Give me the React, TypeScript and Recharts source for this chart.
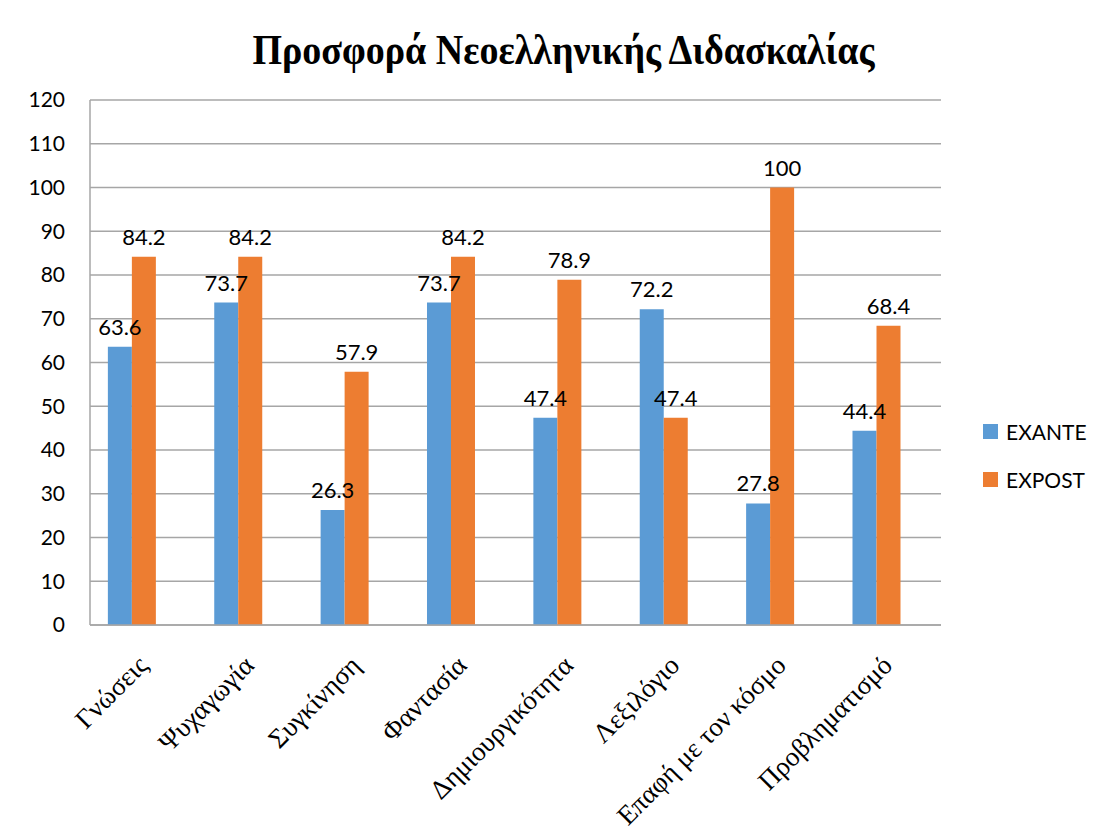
import React from "react";
import { BarChart, Bar, XAxis, YAxis, CartesianGrid, LabelList } from "recharts";

const categories = [
  "Γνώσεις",
  "Ψυχαγωγία",
  "Συγκίνηση",
  "Φαντασία",
  "Δημιουργικότητα",
  "Λεξιλόγιο",
  "Επαφή με τον κόσμο",
  "Προβληματισμό",
];
const exante = [63.6, 73.7, 26.3, 73.7, 47.4, 72.2, 27.8, 44.4];
const expost = [84.2, 84.2, 57.9, 84.2, 78.9, 47.4, 100, 68.4];
const yTicks = [0, 10, 20, 30, 40, 50, 60, 70, 80, 90, 100, 110, 120];
const title = "Προσφορά Νεοελληνικής Διδασκαλίας";
const seriesNames = ["EXANTE", "EXPOST"];
const seriesColors = ["#5B9BD5", "#ED7D31"];

const data = categories.map((c, i) => ({ name: c, EXANTE: exante[i], EXPOST: expost[i] }));

const XTick = (props: any) => {
  const { x, y, payload } = props;
  return (
    <g transform={`translate(${x + 6},${y + 40})`}>
      <text
        x={0}
        y={0}
        textAnchor="end"
        transform="rotate(-45)"
        fontFamily="'Liberation Serif', 'DejaVu Serif', serif"
        fontSize={27}
        fill="#000"
      >
        {payload.value}
      </text>
    </g>
  );
};

const labelStyle = { fontFamily: "Lato, sans-serif", fontSize: 22, fill: "#000" };

export default function App() {
  return (
    <div style={{ position: "relative", margin: -8, width: 1107, height: 834, overflow: "hidden", background: "#fff" }}>
      <div
        style={{
          position: "absolute",
          left: 7,
          top: 3,
          width: 1200,
          height: 900,
          borderLeft: "1.5px solid #8a8a8a",
          borderTop: "1.5px solid #8a8a8a",
        }}
      />
      <div
        style={{
          position: "absolute",
          left: 0,
          top: 24,
          width: 1127,
          textAlign: "center",
          fontFamily: "'Liberation Serif', 'DejaVu Serif', serif",
          fontWeight: "bold",
          fontSize: 38,
          color: "#000",
          lineHeight: "52px",
          transform: "scaleY(1.1)",
        }}
      >
        {title}
      </div>
      <div style={{ position: "absolute", left: 0, top: 0 }}>
        <BarChart
          width={1107}
          height={834}
          data={data}
          margin={{ top: 100, right: 166, left: 0, bottom: 0 }}
          barCategoryGap="16.8%"
          barGap={0}
        >
          <CartesianGrid vertical={false} stroke="#a6a6a6" strokeWidth={1.5} />
          <XAxis
            dataKey="name"
            interval={0}
            height={209}
            tickLine={false}
            tickSize={0}
            axisLine={{ stroke: "#a6a6a6", strokeWidth: 1.5 }}
            tick={<XTick />}
          />
          <YAxis
            domain={[0, 120]}
            ticks={yTicks}
            width={90}
            tickLine={false}
            tickSize={0}
            tickMargin={25}
            axisLine={{ stroke: "#a6a6a6", strokeWidth: 1.5 }}
            tick={{ fontFamily: "Lato, sans-serif", fontSize: 21, fill: "#000" }}
          />
          <Bar dataKey="EXANTE" fill={seriesColors[0]} isAnimationActive={false}>
            <LabelList dataKey="EXANTE" position="top" offset={12} style={labelStyle} />
          </Bar>
          <Bar dataKey="EXPOST" fill={seriesColors[1]} isAnimationActive={false}>
            <LabelList dataKey="EXPOST" position="top" offset={12} style={labelStyle} />
          </Bar>
          <Bar dataKey="Series3" fill="#A5A5A5" legendType="none" isAnimationActive={false} />
        </BarChart>
      </div>
      <div
        style={{
          position: "absolute",
          left: 983,
          top: 407,
          fontFamily: "Lato, sans-serif",
          fontSize: 21,
          color: "#000",
        }}
      >
        {seriesNames.map((n, i) => (
          <div key={n} style={{ display: "flex", alignItems: "center", height: 48 }}>
            <span style={{ display: "inline-block", width: 15, height: 15, background: seriesColors[i], marginRight: 8 }} />
            <span>{n}</span>
          </div>
        ))}
      </div>
    </div>
  );
}
